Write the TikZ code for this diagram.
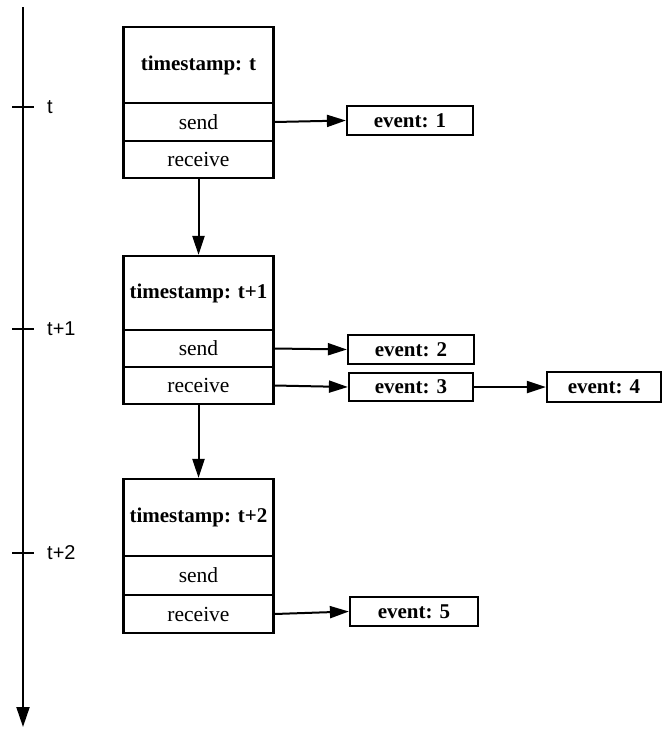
\documentclass[tikz,border=0pt]{standalone}
\usepackage{fontspec}
\setmainfont{Liberation Serif}
\newfontfamily\axisfont{Liberation Sans}
\usetikzlibrary{arrows.meta}

\tikzset{
  cell/.style={draw, line width=2.2pt, minimum width=150pt, inner sep=0pt,
    font=\fontsize{21.5}{25}\selectfont},
  head/.style={cell, font=\fontsize{21}{25}\selectfont\bfseries},
  eventbox/.style={draw, line width=2.2pt, minimum height=29pt, inner sep=0pt,
    font=\fontsize{21}{25}\selectfont\bfseries},
  flow/.style={line width=2pt, -{Triangle[length=19pt,width=12pt]}},
  tick/.style={line width=2pt},
  ticklabel/.style={anchor=west, inner sep=0pt, font=\axisfont\fontsize{20}{24}\selectfont}
}

\begin{document}
\begin{tikzpicture}[x=1pt, y=-1pt]
  \useasboundingbox (0,0) rectangle (663,729);

  % time axis
  \coordinate (axtop) at (23,7);
  \coordinate (axbot) at (23,727);
  \draw[line width=2pt, -{Triangle[length=20pt,width=13pt]}] (axtop) -- (axbot);

  % ticks and their labels
  \coordinate (t0a) at (12,107);  \coordinate (t0b) at (34,107);
  \coordinate (t1a) at (12,329);  \coordinate (t1b) at (34,329);
  \coordinate (t2a) at (12,553);  \coordinate (t2b) at (34,553);
  \draw[tick] (t0a) -- (t0b);
  \draw[tick] (t1a) -- (t1b);
  \draw[tick] (t2a) -- (t2b);
  \node[ticklabel] (lt0) at (47,107) {t};
  \node[ticklabel] (lt1) at (47,329) {t+1};
  \node[ticklabel] (lt2) at (47,553) {t+2};

  % timestamp t
  \node[head, minimum height=76pt] (h1) at (198.5,65) {timestamp: t};
  \node[cell, minimum height=38pt] (s1) at (198.5,122) {send};
  \node[cell, minimum height=37pt] (r1) at (198.5,159.5) {receive};

  % timestamp t+1
  \node[head, minimum height=74pt] (h2) at (198.5,293) {timestamp: t+1};
  \node[cell, minimum height=37pt] (s2) at (198.5,348.5) {send};
  \node[cell, minimum height=37pt] (r2) at (198.5,385.5) {receive};

  % timestamp t+2
  \node[head, minimum height=77pt] (h3) at (198.5,517.5) {timestamp: t+2};
  \node[cell, minimum height=39pt] (s3) at (198.5,575.5) {send};
  \node[cell, minimum height=38pt] (r3) at (198.5,614) {receive};

  % events
  \node[eventbox, minimum width=126pt] (e1) at (410,120.5) {event: 1};
  \node[eventbox, minimum width=126pt] (e2) at (411,349.5) {event: 2};
  \node[eventbox, minimum width=124pt, minimum height=28pt] (e3) at (411,387) {event: 3};
  \node[eventbox, minimum width=114pt, minimum height=30pt] (e4) at (604,387) {event: 4};
  \node[eventbox, minimum width=128pt] (e5) at (414,611.5) {event: 5};

  % connectors
  \draw[flow] (r1.south) -- (h2.north);
  \draw[flow] (r2.south) -- (h3.north);
  \draw[flow] (s1.east) -- (e1.west);
  \draw[flow] (s2.east) -- (e2.west);
  \draw[flow] (r2.east) -- (e3.west);
  \draw[flow] (e3.east) -- (e4.west);
  \draw[flow] (r3.east) -- (e5.west);
\end{tikzpicture}
\end{document}
